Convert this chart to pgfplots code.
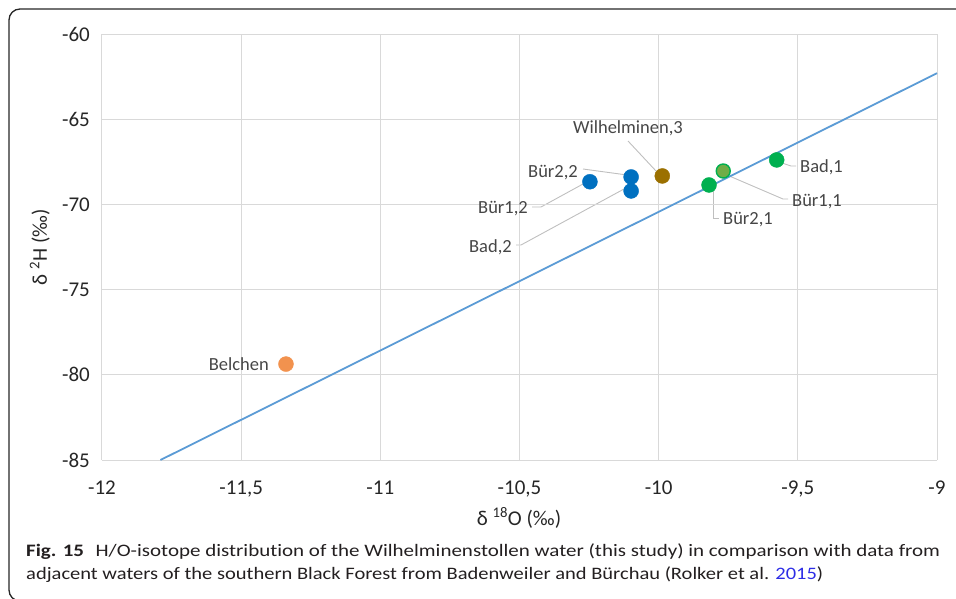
\documentclass[border=0pt]{standalone}
\usepackage{pgfplots}
\pgfplotsset{compat=1.18}
\usepackage{fontspec}
\usepackage{graphicx}
\setmainfont{Carlito}[Ligatures=NoCommon]
\definecolor{gridc}{RGB}{217,217,217}
\definecolor{leadc}{RGB}{191,191,191}
\definecolor{lblc}{RGB}{70,70,70}
\definecolor{tickc}{RGB}{38,38,38}
\definecolor{ptblue}{RGB}{0,112,192}
\definecolor{ptgreen}{RGB}{0,176,80}
\definecolor{ptolive}{RGB}{112,173,71}
\definecolor{ptgold}{RGB}{155,112,0}
\definecolor{ptorange}{RGB}{242,146,78}
\definecolor{linec}{RGB}{91,155,213}
\definecolor{capc}{RGB}{35,31,32}
\definecolor{linkc}{RGB}{45,45,230}
\begin{document}
\begin{tikzpicture}
\useasboundingbox (0,0) rectangle (956pt,-599pt);
\draw[black!85, line width=1.3pt, rounded corners=11pt] (9pt,-9pt) rectangle (990pt,-601pt);
% leader lines (drawn beneath the markers)
\begin{scope}[draw=leadc, line width=0.9pt]
\draw (628pt,-141pt) -- (656pt,-171pt);
\draw (583pt,-169pt) -- (627pt,-175pt);
\draw (532pt,-207pt) -- (541pt,-207pt) -- (583pt,-184pt);
\draw (516pt,-245pt) -- (521pt,-245pt) -- (624pt,-189pt);
\draw (713pt,-190pt) -- (713pt,-218pt) -- (719pt,-218pt);
\draw (727pt,-175pt) -- (783pt,-199pt) -- (788pt,-199pt);
\draw (779pt,-162pt) -- (791pt,-166pt) -- (796pt,-166pt);
\end{scope}
\begin{axis}[
  at={(102pt,-460pt)}, anchor=south west,
  scale only axis, width=835pt, height=426pt,
  xmin=-12, xmax=-9, ymin=-85, ymax=-60,
  xtick={-12,-11.5,-11,-10.5,-10,-9.5,-9},
  xticklabels={-12,{-11,5},-11,{-10,5},-10,{-9,5},-9},
  ytick={-85,-80,-75,-70,-65,-60},
  yticklabels={-85,-80,-75,-70,-65,-60},
  grid=major, grid style={draw=gridc, line width=1pt},
  axis line style={draw=none},
  major tick length=0pt,
  tick label style={font=\fontsize{21}{25}\selectfont, text=tickc, inner sep=0pt},
  yticklabel style={anchor=east, xshift=-12pt},
  xticklabel style={anchor=north, yshift=-21pt},
  xlabel={δ \textsuperscript{18}O (‰)},
  ylabel={δ \textsuperscript{2}H (‰)},
  label style={font=\fontsize{21}{25}\selectfont, text=tickc, inner sep=0pt},
  xlabel style={at={(axis description cs:0.4994,-0.1526)}, anchor=base},
  ylabel style={at={(axis description cs:-0.0659,0.5)}, anchor=base, rotate=0},
  clip=false,
]
\addplot[linec, line width=1.8pt, no marks] coordinates {(-11.79,-85) (-9,-62.3)};
\addplot[only marks, mark=*, mark size=7.5pt, mark options={fill=ptblue, draw=ptblue}] coordinates {
  (-10.247,-68.67) (-10.099,-68.39) (-10.099,-69.21)};
\addplot[only marks, mark=*, mark size=7.5pt, mark options={fill=ptgold, draw=ptgold}] coordinates {
  (-9.987,-68.33)};
\addplot[only marks, mark=*, mark size=7.5pt, mark options={fill=ptgreen, draw=ptgreen}] coordinates {
  (-9.819,-68.86) (-9.576,-67.39)};
\addplot[only marks, mark=*, mark size=7pt, mark options={fill=ptolive, draw=ptgreen, line width=1.4pt}] coordinates {
  (-9.768,-68.04)};
\addplot[only marks, mark=*, mark size=7.5pt, mark options={fill=ptorange, draw=ptorange}] coordinates {
  (-11.339,-79.37)};
\end{axis}
% data labels
\begin{scope}[every node/.style={inner sep=0pt, text=lblc, font=\fontsize{18.5}{22}\selectfont}]
\node[anchor=base] at (628pt,-134pt) {Wilhelminen,3};
\node[anchor=base east] at (578pt,-177.5pt) {Bür2,2};
\node[anchor=base east] at (528pt,-213pt) {Bür1,2};
\node[anchor=base east] at (512pt,-252pt) {Bad,2};
\node[anchor=base west] at (723pt,-224pt) {Bür2,1};
\node[anchor=base west] at (792pt,-206pt) {Bür1,1};
\node[anchor=base west] at (800pt,-172.5pt) {Bad,1};
\node[anchor=base east] at (269pt,-370.5pt) {Belchen};
\end{scope}
% caption
\begin{scope}[every node/.style={inner sep=0pt, text=capc, font=\fontsize{17.5}{21}\selectfont}]
\node[anchor=base west] at (26pt,-556pt) {\resizebox{914pt}{\height}{\textbf{Fig. 15}\hspace{0.55em}H/O-isotope distribution of the Wilhelminenstollen water (this study) in comparison with data from}};
\node[anchor=base west] at (26pt,-579pt) {\resizebox{797pt}{\height}{adjacent waters of the southern Black Forest from Badenweiler and Bürchau (Rolker et al. \textcolor{linkc}{2015})}};
\end{scope}
\end{tikzpicture}
\end{document}
